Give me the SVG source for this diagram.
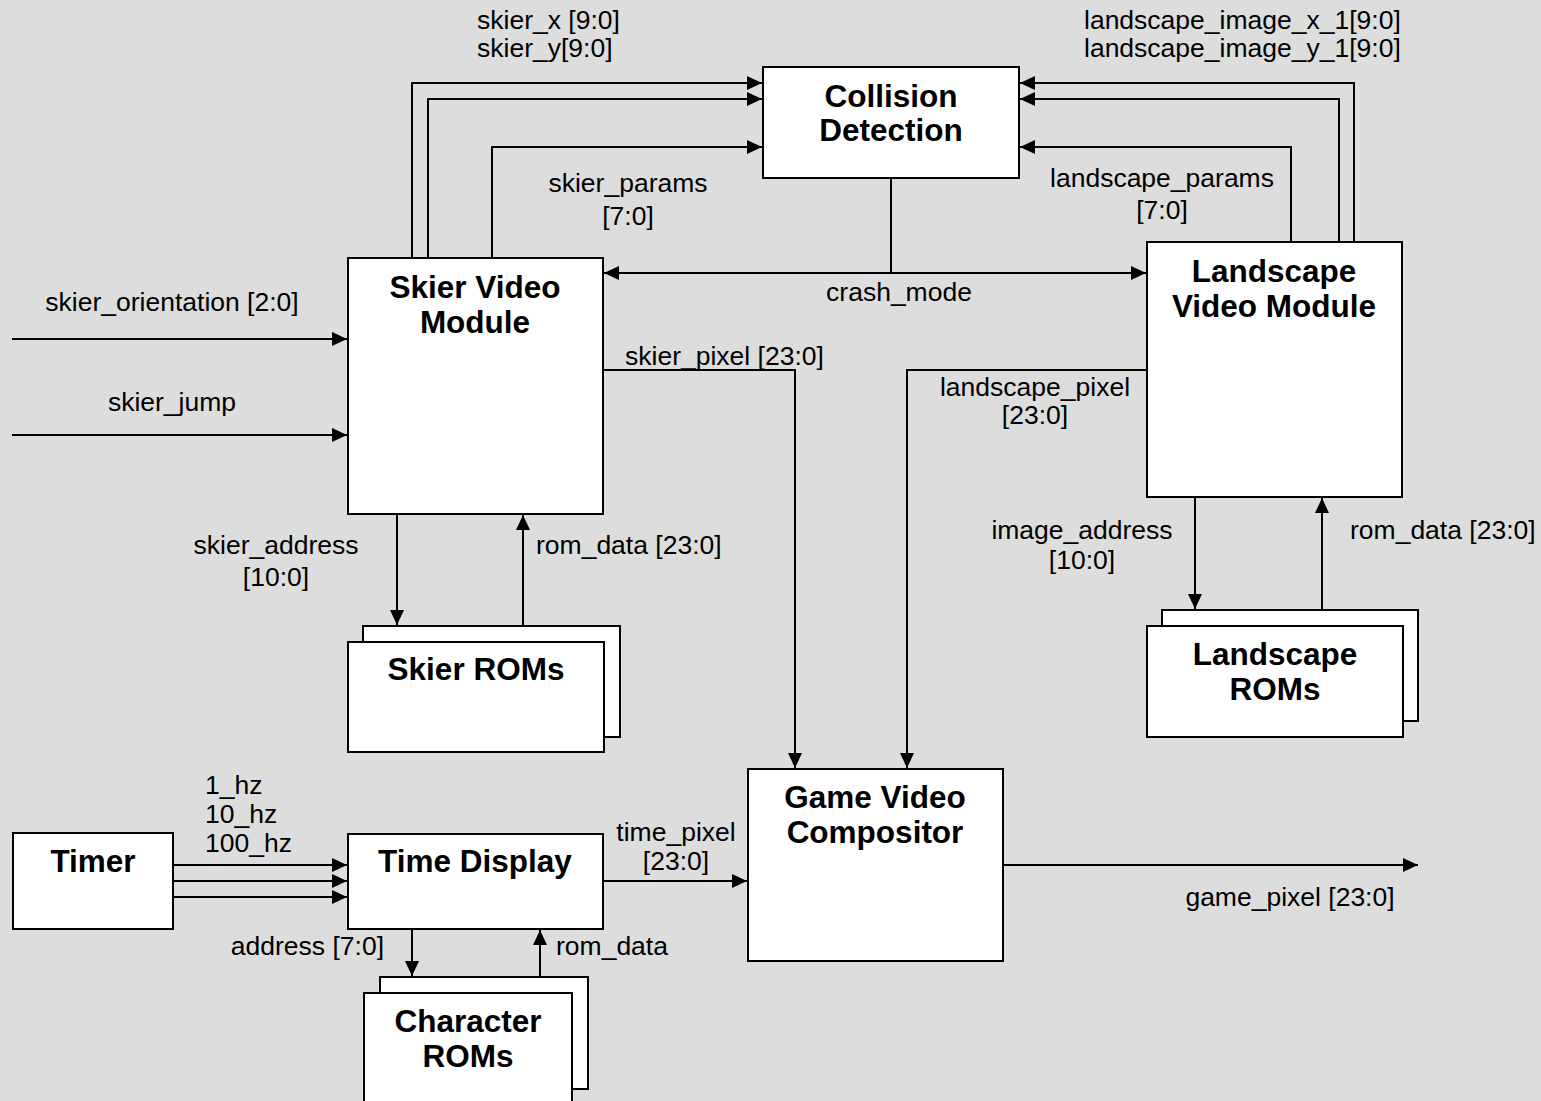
<svg xmlns="http://www.w3.org/2000/svg" width="1541" height="1101" viewBox="0 0 1541 1101">
<style>
.bg{fill:#dddddd}
.box{fill:#ffffff;stroke:#000000;stroke-width:2}
.title{font-family:"Liberation Sans",Arial,sans-serif;font-weight:bold;font-size:31.5px;fill:#000000;text-anchor:middle}
.lbl{font-family:"Liberation Sans",Arial,sans-serif;font-size:26.5px;fill:#000000}
.c{text-anchor:middle}
.e{text-anchor:end}
.wire{fill:none;stroke:#000000;stroke-width:2}
</style>
<defs>
<marker id="arr" viewBox="0 0 15 14" refX="15" refY="7" markerWidth="15" markerHeight="14" markerUnits="userSpaceOnUse" orient="auto-start-reverse">
<path d="M0,0 L15,7 L0,14 z" fill="#000000"/>
</marker>
</defs>
<rect class="bg" x="0" y="0" width="1541" height="1101"/>

<g id="connectors">
<path class="wire" d="M412,258 V83 H762" marker-end="url(#arr)"/>
<path class="wire" d="M428,258 V99 H762" marker-end="url(#arr)"/>
<path class="wire" d="M492,258 V147 H762" marker-end="url(#arr)"/>
<path class="wire" d="M1354,242 V83 H1020" marker-end="url(#arr)"/>
<path class="wire" d="M1339,242 V99 H1020" marker-end="url(#arr)"/>
<path class="wire" d="M1291,242 V147 H1020" marker-end="url(#arr)"/>
<path class="wire" d="M891,178 V273"/>
<path class="wire" d="M604,273 H1146" marker-start="url(#arr)" marker-end="url(#arr)"/>
<path class="wire" d="M603,370 H795 V768" marker-end="url(#arr)"/>
<path class="wire" d="M1147,370 H907 V768" marker-end="url(#arr)"/>
<path class="wire" d="M12,339 H347" marker-end="url(#arr)"/>
<path class="wire" d="M12,435 H347" marker-end="url(#arr)"/>
<path class="wire" d="M397,514 V625" marker-end="url(#arr)"/>
<path class="wire" d="M523,625 V515" marker-end="url(#arr)"/>
<path class="wire" d="M1195,497 V609" marker-end="url(#arr)"/>
<path class="wire" d="M1322,610 V498" marker-end="url(#arr)"/>
<path class="wire" d="M173,865 H347" marker-end="url(#arr)"/>
<path class="wire" d="M173,881 H347" marker-end="url(#arr)"/>
<path class="wire" d="M173,897 H347" marker-end="url(#arr)"/>
<path class="wire" d="M603,881 H747" marker-end="url(#arr)"/>
<path class="wire" d="M412,929 V976" marker-end="url(#arr)"/>
<path class="wire" d="M540,977 V930" marker-end="url(#arr)"/>
<path class="wire" d="M1003,865 H1418" marker-end="url(#arr)"/>
</g>

<g id="collision-detection">
<rect class="box" x="763" y="67" width="256" height="111"/>
<text class="title" x="891" y="107">Collision</text>
<text class="title" x="891" y="141">Detection</text>
</g>

<g id="skier-video-module">
<rect class="box" x="348" y="258" width="255" height="256"/>
<text class="title" x="475" y="298">Skier Video</text>
<text class="title" x="475" y="333">Module</text>
</g>

<g id="landscape-video-module">
<rect class="box" x="1147" y="242" width="255" height="255"/>
<text class="title" x="1274" y="282">Landscape</text>
<text class="title" x="1274" y="317">Video Module</text>
</g>

<g id="skier-roms">
<rect class="box" x="363" y="626" width="257" height="111"/>
<rect class="box" x="348" y="642" width="256" height="110"/>
<text class="title" x="476" y="680">Skier ROMs</text>
</g>

<g id="landscape-roms">
<rect class="box" x="1162" y="610" width="256" height="111"/>
<rect class="box" x="1147" y="626" width="256" height="111"/>
<text class="title" x="1275" y="665">Landscape</text>
<text class="title" x="1275" y="700">ROMs</text>
</g>

<g id="game-video-compositor">
<rect class="box" x="748" y="769" width="255" height="192"/>
<text class="title" x="875" y="808">Game Video</text>
<text class="title" x="875" y="843">Compositor</text>
</g>

<g id="timer">
<rect class="box" x="13" y="833" width="160" height="96"/>
<text class="title" x="93" y="872">Timer</text>
</g>

<g id="time-display">
<rect class="box" x="348" y="834" width="255" height="95"/>
<text class="title" x="475" y="872">Time Display</text>
</g>

<g id="character-roms">
<rect class="box" x="380" y="977" width="208" height="112"/>
<rect class="box" x="364" y="993" width="208" height="120"/>
<text class="title" x="468" y="1032">Character</text>
<text class="title" x="468" y="1067">ROMs</text>
</g>

<g id="labels">
<text class="lbl" x="477" y="29">skier_x [9:0]</text>
<text class="lbl" x="477" y="57">skier_y[9:0]</text>
<text class="lbl" x="1084" y="29">landscape_image_x_1[9:0]</text>
<text class="lbl" x="1084" y="57">landscape_image_y_1[9:0]</text>
<text class="lbl c" x="628" y="192">skier_params</text>
<text class="lbl c" x="628" y="225">[7:0]</text>
<text class="lbl c" x="1162" y="187">landscape_params</text>
<text class="lbl c" x="1162" y="219">[7:0]</text>
<text class="lbl c" x="899" y="301">crash_mode</text>
<text class="lbl c" x="172" y="311">skier_orientation [2:0]</text>
<text class="lbl c" x="172" y="411">skier_jump</text>
<text class="lbl" x="625" y="365">skier_pixel [23:0]</text>
<text class="lbl c" x="1035" y="396">landscape_pixel</text>
<text class="lbl c" x="1035" y="424">[23:0]</text>
<text class="lbl c" x="276" y="554">skier_address</text>
<text class="lbl c" x="276" y="586">[10:0]</text>
<text class="lbl" x="536" y="554">rom_data [23:0]</text>
<text class="lbl c" x="1082" y="539">image_address</text>
<text class="lbl c" x="1082" y="569">[10:0]</text>
<text class="lbl" x="1350" y="539">rom_data [23:0]</text>
<text class="lbl" x="205" y="794">1_hz</text>
<text class="lbl" x="205" y="823">10_hz</text>
<text class="lbl" x="205" y="852">100_hz</text>
<text class="lbl c" x="676" y="841">time_pixel</text>
<text class="lbl c" x="676" y="870">[23:0]</text>
<text class="lbl e" x="384" y="955">address [7:0]</text>
<text class="lbl" x="556" y="955">rom_data</text>
<text class="lbl c" x="1290" y="906">game_pixel [23:0]</text>
</g>
</svg>
